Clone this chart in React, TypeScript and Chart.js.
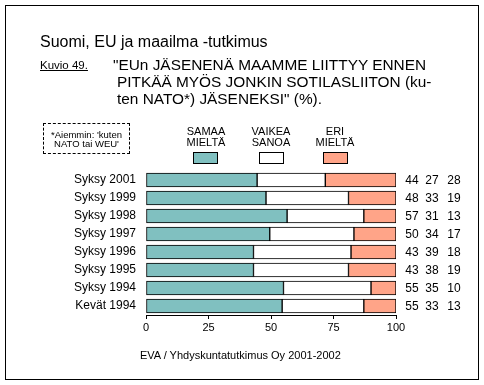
import React, { useEffect, useRef } from "react";
import { Chart, registerables } from "chart.js";

Chart.register(...registerables);

const categories = [
  "Syksy 2001",
  "Syksy 1999",
  "Syksy 1998",
  "Syksy 1997",
  "Syksy 1996",
  "Syksy 1995",
  "Syksy 1994",
  "Kevät 1994",
];
const samaaMielta = [44, 48, 57, 50, 43, 43, 55, 55];
const vaikeaSanoa = [27, 33, 31, 34, 39, 38, 35, 33];
const eriMielta = [28, 19, 13, 17, 18, 19, 10, 13];
const seriesNames = ["SAMAA MIELTÄ", "VAIKEA SANOA", "ERI MIELTÄ"];
const seriesColors = ["#80c0c0", "#ffffff", "#ffa488"];
const xTickValues = [0, 25, 50, 75, 100];

const FONT = "'Liberation Sans', Arial, Helvetica, sans-serif";

const allSeries = [samaaMielta, vaikeaSanoa, eriMielta];
// 100 % stacked: each bar is scaled to its row total
const rowTotals = categories.map((_, i) => allSeries.reduce((s, arr) => s + arr[i], 0));

const valueLabels = {
  id: "valueLabels",
  afterDatasetsDraw(chart: any) {
    const { ctx, chartArea, scales } = chart;
    const offsets = [16, 36, 58];
    ctx.save();
    ctx.font = `12px ${FONT}`;
    ctx.fillStyle = "#000";
    ctx.textAlign = "center";
    ctx.textBaseline = "middle";
    categories.forEach((_, i) => {
      const y = scales.y.getPixelForValue(i);
      allSeries.forEach((arr, j) => {
        ctx.fillText(String(arr[i]), chartArea.right + offsets[j], y + 1);
      });
    });
    ctx.restore();
  },
};

function ChartCanvas() {
  const ref = useRef<HTMLCanvasElement | null>(null);
  useEffect(() => {
    if (!ref.current) return;
    const chart = new Chart(ref.current, {
      type: "bar",
      data: {
        labels: categories,
        datasets: allSeries.map((arr, j) => ({
          label: seriesNames[j],
          data: arr.map((v, i) => (v / rowTotals[i]) * 100),
          backgroundColor: seriesColors[j],
          borderColor: "#000",
          borderWidth: 1,
          borderSkipped: false,
          barThickness: 14,
        })),
      },
      options: {
        indexAxis: "y",
        responsive: false,
        animation: false,
        layout: { padding: { left: 0, right: 88, top: 171, bottom: 40 } },
        plugins: {
          legend: { display: false },
          tooltip: { enabled: false },
          title: { display: false },
        },
        scales: {
          x: {
            stacked: true,
            min: 0,
            max: 100,
            afterBuildTicks: (s: any) => {
              s.ticks = xTickValues.map((v) => ({ value: v }));
            },
            ticks: {
              color: "#000",
              font: { family: FONT, size: 11 },
              padding: 2,
              maxRotation: 0,
            },
            grid: {
              drawOnChartArea: false,
              drawTicks: true,
              tickLength: 4,
              color: "#000",
            },
            border: { display: true, color: "#000", width: 1 },
            afterFit: (s: any) => {
              s.height = 30;
            },
          },
          y: {
            stacked: true,
            ticks: {
              color: "#000",
              font: { family: FONT, size: 12 },
              padding: 10,
            },
            grid: { display: false, drawTicks: false },
            border: { display: false },
            afterFit: (s: any) => {
              s.width = 146;
            },
          },
        },
      } as any,
      plugins: [valueLabels],
    });
    return () => chart.destroy();
  }, []);
  return (
    <canvas
      ref={ref}
      width={484}
      height={385}
      style={{ position: "absolute", left: 0, top: 0, display: "block" }}
    />
  );
}

const legendCenters = [206, 271, 335];
const swatchLeft = [193, 259, 323];

export default function App() {
  const base: React.CSSProperties = {
    position: "absolute",
    fontFamily: FONT,
    color: "#000",
    whiteSpace: "pre",
  };
  return (
    <div
      style={{
        position: "absolute",
        left: 0,
        top: 0,
        width: 484,
        height: 385,
        background: "#fff",
        overflow: "hidden",
      }}
    >
      <ChartCanvas />
      <div
        style={{
          position: "absolute",
          left: 5,
          top: 5,
          width: 474,
          height: 375,
          border: "1px solid #000",
          boxSizing: "border-box",
          pointerEvents: "none",
        }}
      />
      <div style={{ ...base, left: 40, top: 34, fontSize: 16, lineHeight: "16px" }}>
        Suomi, EU ja maailma -tutkimus
      </div>
      <div
        style={{
          ...base,
          left: 40,
          top: 60,
          fontSize: 11.5,
          lineHeight: "11px",
          textDecoration: "underline",
        }}
      >
        Kuvio 49.
      </div>
      <div style={{ ...base, left: 113, top: 56, fontSize: 15.4, lineHeight: "17px" }}>
        "EUn JÄSENENÄ MAAMME LIITTYY ENNEN
      </div>
      <div style={{ ...base, left: 117, top: 73, fontSize: 15.4, lineHeight: "17px" }}>
        PITKÄÄ MYÖS JONKIN SOTILASLIITON (ku-
      </div>
      <div style={{ ...base, left: 117, top: 90, fontSize: 15.4, lineHeight: "17px" }}>
        ten NATO*) JÄSENEKSI" (%).
      </div>
      <div
        style={{
          position: "absolute",
          left: 43,
          top: 123,
          width: 87,
          height: 31,
          border: "1px dashed #000",
          boxSizing: "border-box",
        }}
      />
      <div
        style={{
          ...base,
          left: 43,
          width: 87,
          textAlign: "center",
          top: 130,
          fontSize: 9.5,
          lineHeight: "9px",
        }}
      >
        {"*Aiemmin: 'kuten\nNATO tai WEU'"}
      </div>
      {seriesNames.map((name, j) => (
        <React.Fragment key={name}>
          <div
            style={{
              ...base,
              left: legendCenters[j] - 40,
              width: 80,
              textAlign: "center",
              top: 126,
              fontSize: 11,
              lineHeight: "11px",
            }}
          >
            {name.replace(" ", "\n")}
          </div>
          <div
            style={{
              position: "absolute",
              left: swatchLeft[j],
              top: 152,
              width: 25,
              height: 12,
              background: seriesColors[j],
              border: "1px solid #000",
              boxSizing: "border-box",
            }}
          />
        </React.Fragment>
      ))}
      <div style={{ ...base, left: 140, top: 350, fontSize: 11, lineHeight: "11px" }}>
        EVA / Yhdyskuntatutkimus Oy 2001-2002
      </div>
    </div>
  );
}
